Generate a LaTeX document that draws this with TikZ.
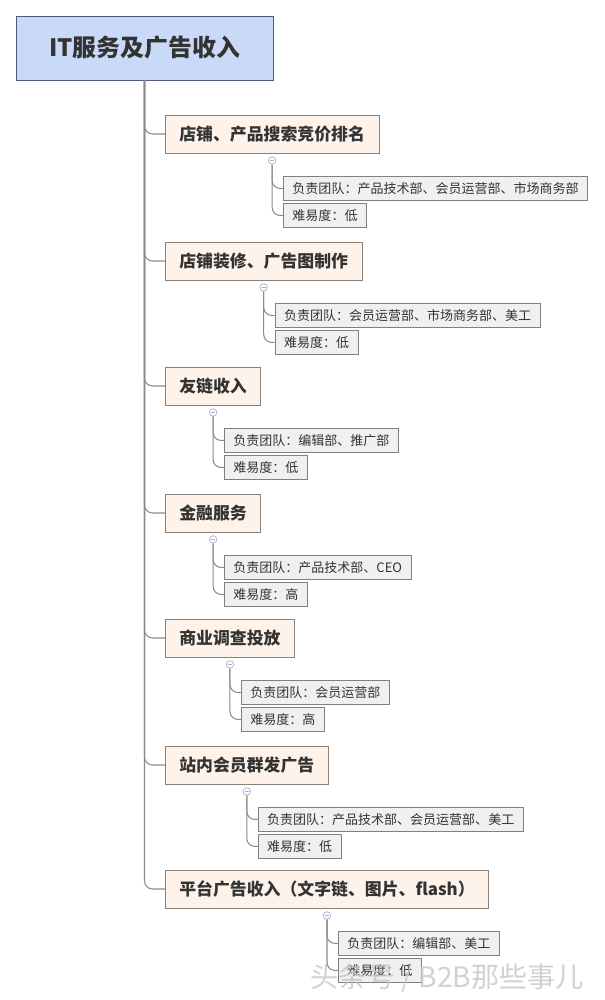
\documentclass[tikz,border=0pt]{standalone}
\usepackage{fontspec}
\setmainfont{Noto Sans CJK SC}
\usetikzlibrary{positioning}
\definecolor{rootfill}{HTML}{C9DAF8}
\definecolor{rootline}{HTML}{4F5B73}
\definecolor{topicfill}{HTML}{FDF3EA}
\definecolor{topicline}{HTML}{8C8078}
\definecolor{leaffill}{HTML}{F0F0F0}
\definecolor{leafline}{HTML}{808080}
\definecolor{linkgray}{HTML}{8A8A8A}
\definecolor{foldline}{HTML}{A8AED0}
\definecolor{txt}{HTML}{333333}

\begin{document}
\begin{tikzpicture}[
  root/.style={draw=rootline, fill=rootfill, minimum width=5.14cm, minimum height=1.28cm, font=\fontsize{13.6}{15}\selectfont\bfseries, text=txt},
  topic/.style={draw=topicline, fill=topicfill, anchor=west, minimum height=0.76cm, inner xsep=0.28cm, font=\fontsize{9.6}{11}\selectfont\bfseries, text=txt},
  leaf/.style={draw=leafline, fill=leaffill, anchor=west, minimum height=0.48cm, inner xsep=0.18cm, inner ysep=0pt, font=\fontsize{7.4}{9}\selectfont, text=txt},
  fold/.style={circle, draw=foldline, fill=white, minimum size=0.15cm, inner sep=0pt,
    path picture={\draw[foldline, line width=0.4pt] ([xshift=-0.04cm]path picture bounding box.center) -- ([xshift=0.04cm]path picture bounding box.center);}},
  link/.style={draw=linkgray, line width=0.6pt, rounded corners=0.16cm}]
\useasboundingbox (0,0) rectangle (12.1,-20);

% Root
\node[root] (root) at (2.89,-0.96) {IT服务及广告收入};

% Main topics, one per row
\node[topic] (b1) at (3.30,-2.68) {店铺、产品搜索竞价排名};
\node[topic] (b2) at (3.30,-5.22) {店铺装修、广告图制作};
\node[topic] (b3) at (3.30,-7.72) {友链收入};
\node[topic] (b4) at (3.30,-10.26) {金融服务};
\node[topic] (b5) at (3.30,-12.76) {商业调查投放};
\node[topic] (b6) at (3.30,-15.30) {站内会员群发广告};
\node[topic] (b7) at (3.30,-17.78) {平台广告收入（文字链、图片、flash）};

% Trunk from the root to each topic
\foreach \b in {b1,b2,b3,b4,b5,b6,b7}
  \draw[link] (root.south) |- (\b.west);

% Fold markers under the topics
\node[fold, below=0.06cm of b1] (f1) {};
\node[fold, below=0.06cm of b2] (f2) {};
\node[fold, below=0.06cm of b3] (f3) {};
\node[fold, below=0.06cm of b4] (f4) {};
\node[fold, below=0.06cm of b5] (f5) {};
\node[fold, below=0.06cm of b6] (f6) {};
\node[fold, below=0.06cm of b7] (f7) {};

% Details: team and difficulty
\node[leaf] (b1a) at ([shift={(0.22,-0.56)}]f1.center) {负责团队：产品技术部、会员运营部、市场商务部};
\node[leaf] (b1b) at ([shift={(0.22,-1.10)}]f1.center) {难易度：低};
\node[leaf] (b2a) at ([shift={(0.22,-0.56)}]f2.center) {负责团队：会员运营部、市场商务部、美工};
\node[leaf] (b2b) at ([shift={(0.22,-1.10)}]f2.center) {难易度：低};
\node[leaf] (b3a) at ([shift={(0.22,-0.56)}]f3.center) {负责团队：编辑部、推广部};
\node[leaf] (b3b) at ([shift={(0.22,-1.10)}]f3.center) {难易度：低};
\node[leaf] (b4a) at ([shift={(0.22,-0.56)}]f4.center) {负责团队：产品技术部、CEO};
\node[leaf] (b4b) at ([shift={(0.22,-1.10)}]f4.center) {难易度：高};
\node[leaf] (b5a) at ([shift={(0.22,-0.56)}]f5.center) {负责团队：会员运营部};
\node[leaf] (b5b) at ([shift={(0.22,-1.10)}]f5.center) {难易度：高};
\node[leaf] (b6a) at ([shift={(0.22,-0.56)}]f6.center) {负责团队：产品技术部、会员运营部、美工};
\node[leaf] (b6b) at ([shift={(0.22,-1.10)}]f6.center) {难易度：低};
\node[leaf] (b7a) at ([shift={(0.22,-0.56)}]f7.center) {负责团队：编辑部、美工};
\node[leaf] (b7b) at ([shift={(0.22,-1.10)}]f7.center) {难易度：低};

\foreach \i in {1,...,7} {
  \draw[link] (f\i.south) |- (b\i a.west);
  \draw[link] (f\i.south) |- (b\i b.west);
}

% Watermark
\node[text=gray!45, opacity=0.8, font=\fontsize{16}{19}\selectfont, anchor=east] (mark) at (11.8,-19.56) {头条号 / B2B那些事儿};
\end{tikzpicture}
\end{document}
